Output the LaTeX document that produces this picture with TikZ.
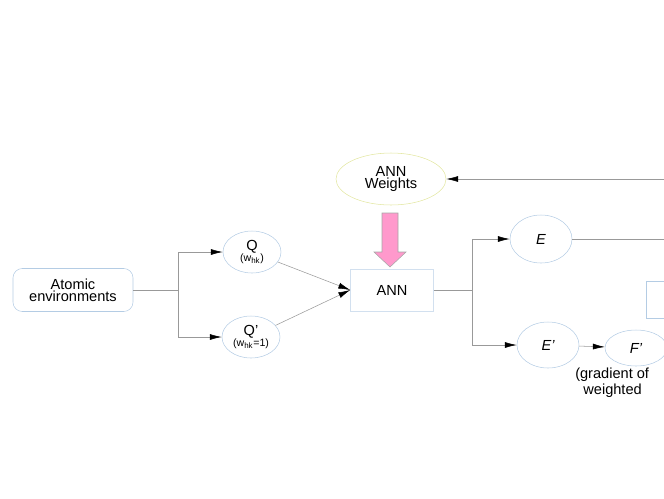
\documentclass[tikz,border=0pt]{standalone}
\usepackage{fontspec}
\setmainfont{Liberation Sans}
\usetikzlibrary{arrows.meta, positioning, shapes.geometric}
\definecolor{edgeblue}{HTML}{B4CCE4}
\definecolor{edgeyellow}{HTML}{E2E6A0}
\definecolor{pinkfill}{HTML}{FF99CC}

\begin{document}
\begin{tikzpicture}[
    x=0.0265cm, y=-0.0265cm,
    font=\fontsize{11}{12}\selectfont,
    blob/.style={draw=edgeblue, ellipse, inner sep=0pt},
    box/.style={draw=edgeblue, rectangle, align=center},
    line/.style={draw=gray!80, line width=0.4pt},
    arrow/.style={line, -{Latex[length=9pt, width=4.5pt, fill=black, color=black]}}
]
\useasboundingbox (0,0) rectangle (664,498);
\clip (0,0) rectangle (664,498);

% Eingang
\node[box, rounded corners=7pt, minimum width=120*0.0265cm, minimum height=43*0.0265cm] (atoms) at (73,290) {Atomic\\[-3pt]environments};
\node[blob, minimum width=58*0.0265cm, minimum height=42*0.0265cm, align=center] (q) at (252,252) {Q\\[-4pt]{\footnotesize (w$_{\mathrm{hk}}$)}};
\node[blob, minimum width=58*0.0265cm, minimum height=42*0.0265cm, align=center] (qq) at (251,337) {Q'\\[-4pt]{\footnotesize (w$_{\mathrm{hk}}$=1)}};

% Netz
\node[box, draw=edgeblue!60, minimum width=83*0.0265cm, minimum height=42*0.0265cm] (ann) at (392,290) {ANN};
\node[blob, draw=edgeyellow, minimum width=110*0.0265cm, minimum height=52*0.0265cm, align=center] (weights) at (391,179) {ANN\\[-3pt]Weights};
\draw[draw=gray!70, fill=pinkfill] (382,213) -- (398,213) -- (398,252) -- (406,252) -- (390,267) -- (374,252) -- (382,252) -- cycle;

% Ausgang
\node[blob, minimum width=62*0.0265cm, minimum height=48*0.0265cm] (e) at (541,239) {\itshape E};
\node[blob, minimum width=62*0.0265cm, minimum height=46*0.0265cm] (ee) at (548,345) {\itshape E'};
\node[blob, minimum width=62*0.0265cm, minimum height=36*0.0265cm] (ff) at (636,348) {\itshape F'};
\node[anchor=north west, align=left, inner sep=0pt] (note) at (575,368) {(gradient of\\\ \ weighted};
\node[box, minimum width=40*0.0265cm, minimum height=37*0.0265cm] (loss) at (666,300) {};
\coordinate (wfeed) at (664,179);
\coordinate (efeed) at (664,239);
\coordinate (split1) at (178,290);
\coordinate (split2) at (472,290);

% Verbindungen
\draw[line] (atoms.east) -- (split1);
\draw[arrow] (split1) |- (q.west);
\draw[arrow] (split1) |- (qq.west);
\draw[arrow] (q) -- (ann.west);
\draw[arrow] (qq) -- (ann.west);
\draw[line] (ann.east) -- (split2);
\draw[arrow] (split2) |- (e.west);
\draw[arrow] (split2) |- (ee.west);
\draw[arrow] (ee) -- (ff);
\draw[line] (e.east) -- (efeed);
\draw[arrow] (wfeed) -- (weights.east);

\end{tikzpicture}
\end{document}
